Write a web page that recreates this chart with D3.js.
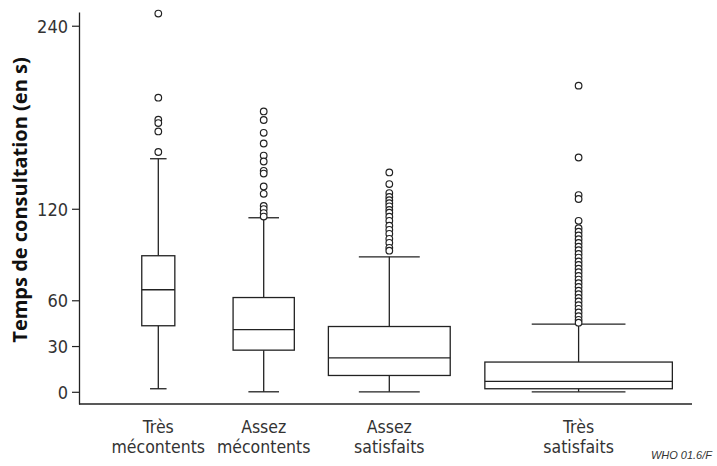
<!DOCTYPE html>
<html>
<head>
<meta charset="utf-8">
<script src="https://cdn.jsdelivr.net/npm/d3@7"></script>
<style>
  body { margin: 0; background: #fff; }
  svg { display: block; }
</style>
</head>
<body>
<svg id="chart" width="717" height="466"></svg>
<script>
// groups (satisfaction level), label split over two lines
var categories = ["Très mécontents", "Assez mécontents", "Assez satisfaits", "Très satisfaits"];
var labelLines = [["Très", "mécontents"], ["Assez", "mécontents"], ["Assez", "satisfaits"], ["Très", "satisfaits"]];
// approximate group sizes (box width ~ sqrt(n))
var counts = [28, 96, 380, 900];
// five-number summaries, seconds
var whiskerLow = [2, 0, 0, 0];
var q1 = [43.3, 27.3, 10.7, 2];
var medians = [66.9, 40.7, 22.3, 6.8];
var q3 = [89.2, 61.8, 42.8, 19.5];
var whiskerHigh = [152.8, 114.1, 88.5, 44.4];
// outliers per group
var outliers = [
    [248, 192.8, 178.4, 176.2, 170.7, 157.2],
    [183.8, 178.2, 169.8, 162.8, 154.9, 151.0, 144.9, 143.1, 134.6, 129.8, 121.9, 119.8, 117.2, 114.9],
    [143.8, 136.2, 130.3, 127.7, 125.6, 123.6, 121.6, 119.3, 117.4, 114.8, 112.1, 108.9, 106.2, 103.6, 100.3, 97.7, 94.4, 92.5],
    [200.7, 153.6, 129, 126.4, 112.1, 107.3, 105, 102.5, 100, 97.6, 95.2, 92.8, 90.4, 88, 85.5, 83.2, 80.7, 78.4,
     76, 73.6, 71.2, 68.8, 66.3, 64, 61.6, 59.2, 56.8, 54.4, 52, 49.6, 47.2, 45.3]
];
var yTicks = [0, 30, 60, 120, 240];

var svg = d3.select("#chart");
var ink = "#222";
var narrow = "'Liberation Sans Narrow', 'DejaVu Sans Condensed', 'Arial Narrow', sans-serif";

var y = d3.scaleLinear().domain([-8, 249]).range([404, 12]);
var x = d3.scaleLinear().domain([0, 1, 2, 3]).range([158.3, 263.7, 389.3, 578.6]);
var w = d3.scaleSqrt().domain([0, 900]).range([0, 187.5]);

var boxes = categories.map(function(c, i) {
    return { i: i, n: counts[i], lo: whiskerLow[i], q1: q1[i], med: medians[i], q3: q3[i], hi: whiskerHigh[i], out: outliers[i] };
});

// y axis
var yAxis = svg.append("g")
    .attr("transform", "translate(79,0)")
    .call(d3.axisLeft(y).tickValues(yTicks).tickSize(7).tickSizeOuter(0).tickPadding(4));
yAxis.select(".domain").attr("stroke", ink).attr("stroke-width", 1.3);
yAxis.selectAll(".tick line").attr("stroke", ink).attr("stroke-width", 1.2);
yAxis.selectAll(".tick text")
    .attr("fill", "#333")
    .style("font-family", narrow)
    .style("font-size", "18px")
    .attr("dy", "0.36em");

// x axis line
svg.append("line")
    .attr("x1", 79).attr("x2", 692)
    .attr("y1", y(-8)).attr("y2", y(-8))
    .attr("stroke", ink).attr("stroke-width", 1.3);

var g = svg.append("g").attr("fill", "none").attr("stroke", ink).attr("stroke-width", 1.3);

var box = g.selectAll("g.box").data(boxes).enter().append("g").attr("class", "box");

// whiskers
box.append("line")
    .attr("x1", function(d) { return x(d.i); }).attr("x2", function(d) { return x(d.i); })
    .attr("y1", function(d) { return y(d.hi); }).attr("y2", function(d) { return y(d.q3); });
box.append("line")
    .attr("x1", function(d) { return x(d.i); }).attr("x2", function(d) { return x(d.i); })
    .attr("y1", function(d) { return y(d.q1); }).attr("y2", function(d) { return y(d.lo); });
// caps
[ "hi", "lo" ].forEach(function(k) {
    box.append("line")
        .attr("x1", function(d) { return x(d.i) - w(d.n) / 4; })
        .attr("x2", function(d) { return x(d.i) + w(d.n) / 4; })
        .attr("y1", function(d) { return y(d[k]); })
        .attr("y2", function(d) { return y(d[k]); });
});
// box
box.append("rect")
    .attr("x", function(d) { return x(d.i) - w(d.n) / 2; })
    .attr("width", function(d) { return w(d.n); })
    .attr("y", function(d) { return y(d.q3); })
    .attr("height", function(d) { return y(d.q1) - y(d.q3); })
    .attr("fill", "#fff");
// median
box.append("line")
    .attr("x1", function(d) { return x(d.i) - w(d.n) / 2; })
    .attr("x2", function(d) { return x(d.i) + w(d.n) / 2; })
    .attr("y1", function(d) { return y(d.med); })
    .attr("y2", function(d) { return y(d.med); });

// outliers
box.selectAll("circle")
    .data(function(d) { return d.out.map(function(v) { return { i: d.i, v: v }; }); })
    .enter().append("circle")
    .attr("cx", function(d) { return x(d.i); })
    .attr("cy", function(d) { return y(d.v); })
    .attr("r", 3.3)
    .attr("fill", "#fff")
    .attr("stroke-width", 1.2);

// category labels, one text per line
svg.append("g").selectAll("g").data(labelLines).enter().append("g")
    .each(function(lines, i) {
        d3.select(this).selectAll("text").data(lines).enter().append("text")
            .attr("x", x(i))
            .attr("y", function(t, j) { return 433 + j * 20; })
            .attr("text-anchor", "middle")
            .attr("fill", "#333")
            .style("font-family", narrow)
            .style("font-size", "17.5px")
            .text(function(t) { return t; });
    });

// y title
svg.append("text")
    .attr("transform", "translate(27,200) rotate(-90)")
    .attr("text-anchor", "middle")
    .attr("fill", "#111")
    .style("font-family", "'Open Sans', sans-serif")
    .style("font-weight", "bold")
    .style("font-size", "20px")
    .text("Temps de consultation (en s)");

// footer code
svg.append("text")
    .attr("x", 712).attr("y", 459)
    .attr("text-anchor", "end")
    .attr("fill", "#333")
    .style("font-family", "'Liberation Sans', sans-serif")
    .style("font-style", "italic")
    .style("font-size", "11px")
    .text("WHO 01.6/F");
</script>
</body>
</html>
